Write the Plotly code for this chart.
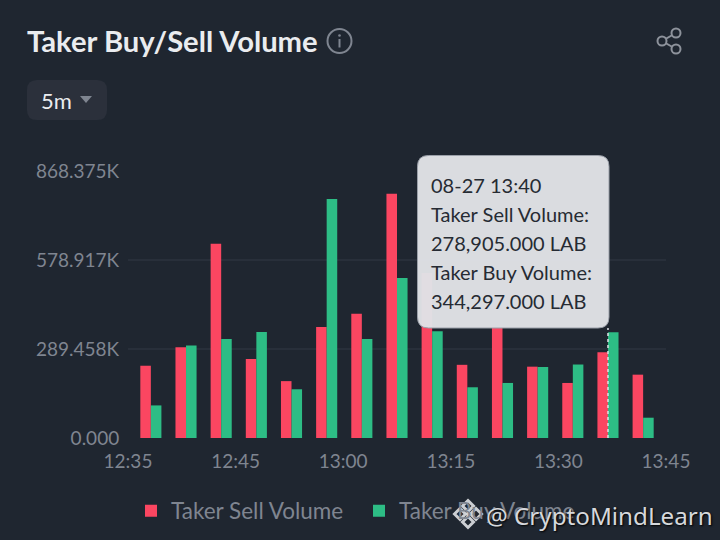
import plotly.graph_objects as go

bar_index = list(range(15))
sell_volume = [235000, 295000, 632000, 257000, 185000, 361000, 404000, 794000,
               537000, 238000, 360000, 232000, 179000, 278905, 206000]
buy_volume = [106000, 300500, 322000, 345000, 158500, 777000, 322000, 520000,
              347000, 165000, 179000, 231000, 239000, 344297, 66000]
y_ticks = [0, 289458, 578917, 868375]
y_labels = ["0.000", "289.458K", "578.917K", "868.375K"]
x_labels = ["12:35", "12:45", "13:00", "13:15", "13:30", "13:45"]
hover_index = 13
hover_time = "08-27 13:40"

BG = "#1f2630"
SELL = "#fb4661"
BUY = "#2dbd85"
GREY = "#7f8590"
FONT = "Lato, Inter, sans-serif"

# plot area in page pixels
LEFT, RIGHT, TOP, BOTTOM = 128, 666, 171, 438
x_lo, x_hi = -0.65, 14.65


def px(x):
    return (x - LEFT) / (RIGHT - LEFT)


def py(y):
    return (BOTTOM - y) / (BOTTOM - TOP)


def round_box(x0, y0, x1, y1, r):
    return (f"M{px(x0 + r)},{py(y0)} L{px(x1 - r)},{py(y0)} Q{px(x1)},{py(y0)} {px(x1)},{py(y0 + r)} "
            f"L{px(x1)},{py(y1 - r)} Q{px(x1)},{py(y1)} {px(x1 - r)},{py(y1)} "
            f"L{px(x0 + r)},{py(y1)} Q{px(x0)},{py(y1)} {px(x0)},{py(y1 - r)} "
            f"L{px(x0)},{py(y0 + r)} Q{px(x0)},{py(y0)} {px(x0 + r)},{py(y0)} Z")


def poly(points):
    return "M" + " L".join(f"{px(a)},{py(b)}" for a, b in points) + " Z"


def page_shape(path, fill="rgba(0,0,0,0)", line=None, width=0):
    return dict(type="path", xref="paper", yref="paper", path=path, fillcolor=fill,
                line=dict(color=line or "rgba(0,0,0,0)", width=width), layer="above")


def circle(cx, cy, r, fill="rgba(0,0,0,0)", line=None, width=0):
    return dict(type="circle", xref="paper", yref="paper", x0=px(cx - r), x1=px(cx + r),
                y0=py(cy + r), y1=py(cy - r), fillcolor=fill,
                line=dict(color=line or "rgba(0,0,0,0)", width=width), layer="above")


def text(x, y, s, size, color, bold=False, family=FONT, shadow=None):
    font = dict(size=size, color=color, family=family)
    if shadow:
        font["shadow"] = shadow
    return dict(xref="paper", yref="paper", x=px(x), y=py(y), text=f"<b>{s}</b>" if bold else s,
                showarrow=False, xanchor="left", yanchor="middle", font=font)


fig = go.Figure()
fig.add_trace(go.Bar(x=bar_index, y=sell_volume, name="Taker Sell Volume", marker_color=SELL,
                     marker_line_width=0))
fig.add_trace(go.Bar(x=bar_index, y=buy_volume, name="Taker Buy Volume", marker_color=BUY,
                     marker_line_width=0))

shapes = []
for v in y_ticks[1:3]:
    shapes.append(dict(type="line", xref="paper", yref="y", x0=0, x1=1, y0=v, y1=v,
                       line=dict(color="#323944", width=1), layer="below"))

# hover line and tooltip
shapes.append(dict(type="line", xref="x", yref="paper", x0=hover_index, x1=hover_index,
                   y0=0, y1=py(328), line=dict(color="#dfe1e5", width=1.5, dash="dot"), layer="above"))
shapes.append(page_shape(round_box(417.5, 155.5, 609, 328, 11), fill="rgba(224,226,230,0.97)",
                         line="#9a9fa8", width=1))

# 5m button, caret
shapes.append(page_shape(round_box(27, 80, 107, 120, 10), fill="#2b303b"))
shapes.append(page_shape(poly([(80, 96), (92, 96), (86, 103)]), fill="#7f8590"))

# info icon
shapes.append(circle(339.5, 41, 12, line="#7f8590", width=2))
shapes.append(circle(339.5, 35.5, 1.3, fill="#7f8590"))
shapes.append(page_shape(poly([(338.5, 39), (340.5, 39), (340.5, 47.5), (338.5, 47.5)]), fill="#7f8590"))

# share icon
share = [(676, 33), (662, 41), (676, 49)]
shapes.append(page_shape(f"M{px(676)},{py(33)} L{px(662)},{py(41)} L{px(676)},{py(49)}", line="#8d929b", width=2))
for cx, cy in share:
    shapes.append(circle(cx, cy, 4.5, fill=BG, line="#8d929b", width=2))

# watermark logo
LOGO = "rgba(214,216,220,0.95)"
for cx, cy, r in [(468, 506, 5.5), (468, 522, 5.5), (460, 514, 5.5), (476, 514, 5.5)]:
    shapes.append(page_shape(poly([(cx, cy - r), (cx + r, cy), (cx, cy + r), (cx - r, cy)]),
                             line=LOGO, width=3))
shapes.append(page_shape(poly([(468, 511), (471, 514), (468, 517), (465, 514)]), fill=LOGO))

annotations = [
    text(25, 41, "Taker Buy/Sell Volume", 29.2, "#eaecef", bold=True),
    text(39, 100, "5m", 22, "#eaecef"),
    text(429, 185, hover_time, 20, "#262b33"),
    text(429, 214, "Taker Sell Volume:", 20, "#262b33"),
    text(429, 243, f"{sell_volume[hover_index]:,.3f} LAB", 20, "#262b33"),
    text(429, 272, "Taker Buy Volume:", 20, "#262b33"),
    text(429, 301, f"{buy_volume[hover_index]:,.3f} LAB", 20, "#262b33"),
    text(484, 515, "@ CryptoMindLearn", 24.2, "#d6d8dc", family="Noto Sans", shadow="1px 1px 2px #000"),
]

# time labels are spread evenly along the axis, not on the bars
step = (x_hi - x_lo) / (len(x_labels) - 1)
x_tick_pos = [x_lo + i * step for i in range(len(x_labels))]

fig.update_layout(
    width=720, height=540,
    margin=dict(l=LEFT, r=720 - RIGHT, t=TOP, b=540 - BOTTOM, pad=0),
    paper_bgcolor=BG, plot_bgcolor=BG,
    font=dict(family=FONT, color=GREY, size=19),
    barmode="group", bargap=0.4, bargroupgap=0,
    shapes=shapes, annotations=annotations,
    showlegend=True,
    legend=dict(orientation="h", xref="container", yref="container", x=131 / 720, y=1 - 511 / 540,
                yanchor="middle", xanchor="left", entrywidth=183, entrywidthmode="pixels",
                font=dict(size=22.5, color=GREY), bgcolor="rgba(0,0,0,0)", traceorder="normal"),
    xaxis=dict(range=[x_lo, x_hi], tickmode="array", tickvals=x_tick_pos, ticktext=x_labels,
               showgrid=False, zeroline=False, showline=False, ticks="outside", ticklen=6,
               tickcolor=BG, tickfont=dict(size=19, color=GREY)),
    yaxis=dict(range=[0, y_ticks[-1]], tickmode="array", tickvals=y_ticks, ticktext=y_labels,
               showgrid=False, zeroline=False, showline=False, ticks="outside", ticklen=4,
               tickcolor=BG, tickfont=dict(size=19, color=GREY)),
)

fig.write_html("out.html", config={"displayModeBar": False},
               post_script="document.body.style.margin='0';")
